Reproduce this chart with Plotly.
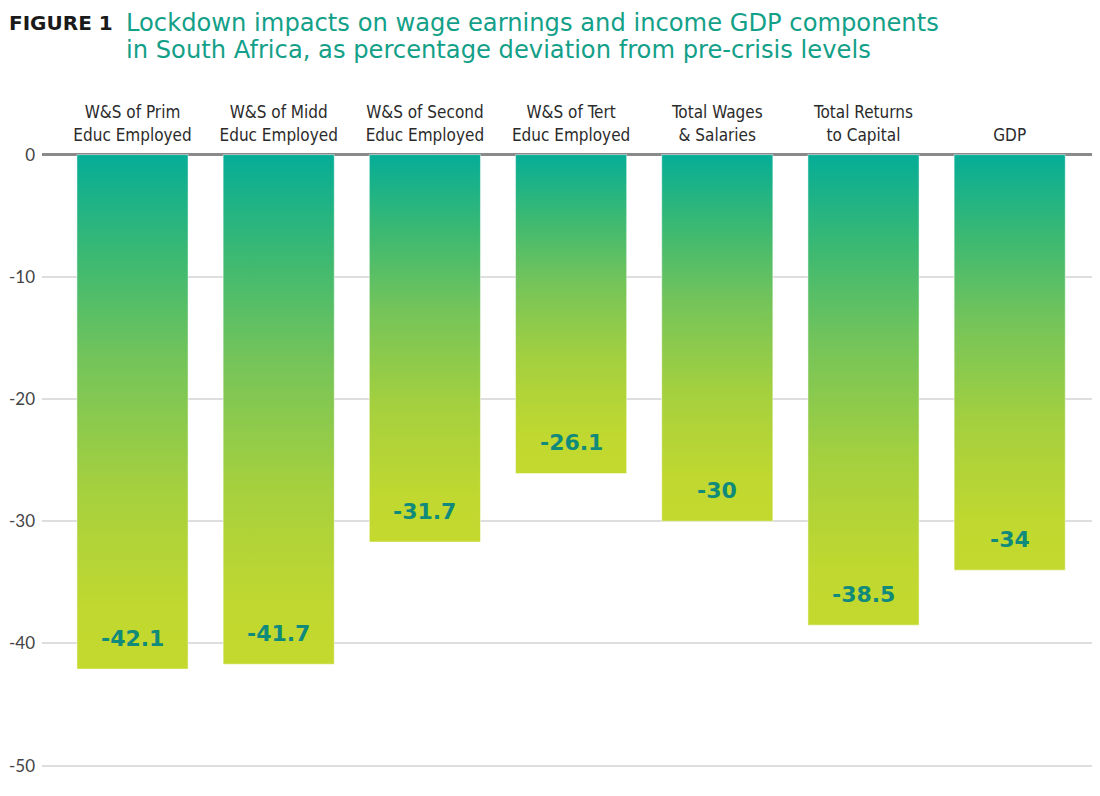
import plotly.graph_objects as go

CATEGORIES = [
    "W&S of Prim<br>Educ Employed",
    "W&S of Midd<br>Educ Employed",
    "W&S of Second<br>Educ Employed",
    "W&S of Tert<br>Educ Employed",
    "Total Wages<br>& Salaries",
    "Total Returns<br>to Capital",
    "GDP",
]
VALUES = [-42.1, -41.7, -31.7, -26.1, -30, -38.5, -34]
VALUE_LABELS = ["-42.1", "-41.7", "-31.7", "-26.1", "-30", "-38.5", "-34"]
Y_TICKS = [0, -10, -20, -30, -40, -50]

TEAL = "#13a088"
LABEL_TEAL = "#0f8a7b"
# bottom (lime) -> top (teal), gradient runs over each bar's own height
BAR_SCALE = [
    [0.0, "#c4d92e"],
    [0.12, "#c0d830"],
    [0.35, "#a5d03e"],
    [0.6, "#74c45a"],
    [0.8, "#3cb972"],
    [1.0, "#05ad97"],
]
HALF_WIDTH = 0.38

fig = go.Figure()

# gradient-filled bars (plain go.Bar can't do gradients)
for i, v in enumerate(VALUES):
    fig.add_trace(
        go.Scatter(
            x=[i - HALF_WIDTH, i + HALF_WIDTH, i + HALF_WIDTH, i - HALF_WIDTH, i - HALF_WIDTH],
            y=[0, 0, v, v, 0],
            mode="lines",
            line=dict(width=0.8, color="rgba(255,255,255,0.6)"),
            fill="toself",
            fillgradient=dict(type="vertical", colorscale=BAR_SCALE),
            name=CATEGORIES[i].replace("<br>", " "),
            hoverinfo="skip",
            showlegend=False,
        )
    )

# value labels just above the bottom of each bar
for i, (v, lab) in enumerate(zip(VALUES, VALUE_LABELS)):
    fig.add_annotation(
        x=i,
        y=v,
        text="<b>" + lab + "</b>",
        showarrow=False,
        yanchor="middle",
        yshift=31,
        font=dict(family="DejaVu Sans, sans-serif", size=22, color=LABEL_TEAL),
    )

# figure title
fig.add_annotation(
    xref="paper", yref="paper", x=-0.0324, y=1.2049,
    xanchor="left", yanchor="middle", borderpad=0,
    text="<b>FIGURE 1</b>",
    showarrow=False,
    font=dict(family="DejaVu Sans, sans-serif", size=20, color="#1a1a1a"),
)
fig.add_annotation(
    xref="paper", yref="paper", x=0.079, y=1.2049,
    xanchor="left", yanchor="middle", borderpad=0,
    text="Lockdown impacts on wage earnings and income GDP components",
    showarrow=False,
    font=dict(family="DejaVu Sans, sans-serif", size=24.2, color=TEAL),
)
fig.add_annotation(
    xref="paper", yref="paper", x=0.079, y=1.1603,
    xanchor="left", yanchor="middle", borderpad=0,
    text="in South Africa, as percentage deviation from pre-crisis levels",
    showarrow=False,
    font=dict(family="DejaVu Sans, sans-serif", size=24.2, color=TEAL),
)

fig.update_layout(
    width=1084,
    height=780,
    margin=dict(l=34, r=0, t=143, b=10),
    plot_bgcolor="white",
    paper_bgcolor="white",
    showlegend=False,
)

fig.update_xaxes(
    range=[-0.619, 6.563],
    side="top",
    tickvals=list(range(len(CATEGORIES))),
    ticktext=CATEGORIES,
    tickfont=dict(family="Liberation Sans Narrow, DejaVu Sans Condensed, sans-serif", size=17, color="#2b2b2b"),
    ticks="",
    ticklabelstandoff=6,
    showgrid=False,
    showline=False,
    zeroline=False,
    automargin=False,
)
fig.update_yaxes(
    range=[-51.01, 0.3],
    tickvals=Y_TICKS,
    ticktext=[str(t) for t in Y_TICKS],
    tickfont=dict(family="Lato, Open Sans, sans-serif", size=17, color="#444444"),
    showgrid=True,
    gridcolor="#dedede",
    gridwidth=1.5,
    zeroline=True,
    zerolinecolor="#8a8a8a",
    zerolinewidth=3,
    showline=False,
    ticks="",
    ticklabelstandoff=6,
    automargin=False,
)

fig.write_html("out.html")
